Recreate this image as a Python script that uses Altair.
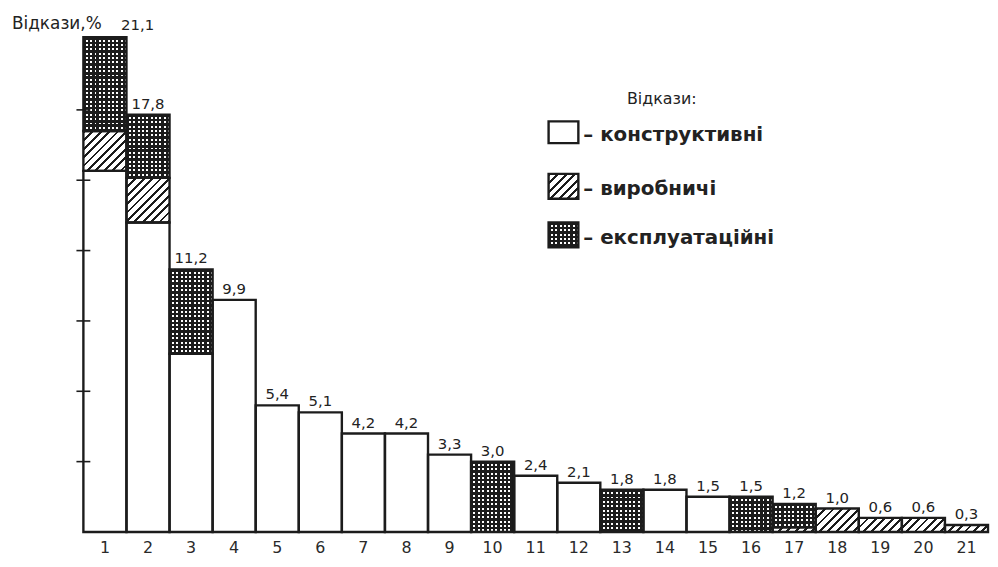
import math
import altair as alt
import pandas as pd

# ---------------- data ----------------
categories = list(range(1, 22))
constructive = [15.4, 13.2, 7.6, 9.9, 5.4, 5.1, 4.2, 4.2, 3.3, 0.0, 2.4, 2.1, 0.0, 1.8, 1.5, 0.0, 0.0, 0.0, 0.0, 0.0, 0.0]
production = [1.7, 1.9, 0.0, 0.0, 0.0, 0.0, 0.0, 0.0, 0.0, 0.0, 0.0, 0.0, 0.0, 0.0, 0.0, 0.0, 0.2, 1.0, 0.6, 0.6, 0.3]
exploitation = [4.0, 2.7, 3.6, 0.0, 0.0, 0.0, 0.0, 0.0, 0.0, 3.0, 0.0, 0.0, 1.8, 0.0, 0.0, 1.5, 1.0, 0.0, 0.0, 0.0, 0.0]
value_labels = ["21,1", "17,8", "11,2", "9,9", "5,4", "5,1", "4,2", "4,2", "3,3", "3,0", "2,4",
                "2,1", "1,8", "1,8", "1,5", "1,5", "1,2", "1,0", "0,6", "0,6", "0,3"]
y_ticks = [3, 6, 9, 12, 15, 18]
y_title = "Відкази,%"
legend_title = "Відкази:"
type_keys = ["constructive", "production", "exploitation"]
type_names = ["конструктивні", "виробничі", "експлуатаційні"]

# ---------------- geometry / style ----------------
W, H = 912, 526
YMAX = 22.25
K = H / YMAX
BW = W / len(categories)
INK = "#1c1c1c"
PAPER = "#ffffff"
CLEAR = "rgba(255,255,255,0)"
FONT = "DejaVu Sans"
TOP = 6  # page offset of plot top from svg top region used for annotations

# ---------------- build segment table ----------------
rows = []
series = {"constructive": constructive, "production": production, "exploitation": exploitation}
for i, c in enumerate(categories):
    lo = 0.0
    for t in type_keys:
        v = series[t][i]
        if v > 0:
            rows.append({"sid": f"{c}-{t}", "cat": c, "type": t, "lo": lo, "hi": lo + v})
            lo += v
seg_df = pd.DataFrame(rows)

lab_df = pd.DataFrame({
    "cat": categories,
    "total": [round(a + b + e, 2) for a, b, e in zip(constructive, production, exploitation)],
    "label": value_labels,
})
one = pd.DataFrame({"a": [0]})


def hatch_diag(w, h, period=6.0, frac=0.34):
    r = h / w
    a = (1 + r) / (1 + r * r)
    b = a * r
    n = (w + h) / (math.sqrt(2) * period)
    stops = []
    i = 0
    while i / n < 1:
        o0 = i / n
        o1 = min((i + frac) / n, 1.0)
        o2 = min((i + 1) / n, 1.0)
        stops += [alt.GradientStop(offset=o0, color=INK), alt.GradientStop(offset=o1, color=INK),
                  alt.GradientStop(offset=o1, color=PAPER), alt.GradientStop(offset=o2, color=PAPER)]
        i += 1
    return alt.LinearGradient(gradient="linear", stops=stops, x1=0, y1=0, x2=a, y2=b)


def stripes(length, horizontal, light, period=4.4, frac=0.55):
    n = max(length / period, 1.0)
    stops = []
    i = 0
    while i / n < 1:
        o0 = i / n
        o1 = min((i + frac) / n, 1.0)
        o2 = min((i + 1) / n, 1.0)
        stops += [alt.GradientStop(offset=o0, color=INK), alt.GradientStop(offset=o1, color=INK),
                  alt.GradientStop(offset=o1, color=light), alt.GradientStop(offset=o2, color=light)]
        i += 1
    if horizontal:
        return alt.LinearGradient(gradient="linear", stops=stops, x1=0, y1=0, x2=0, y2=1)
    return alt.LinearGradient(gradient="linear", stops=stops, x1=0, y1=0, x2=1, y2=0)


X = alt.X("cat:O", scale=alt.Scale(domain=categories, paddingInner=0, paddingOuter=0),
          axis=alt.Axis(title=None, labelAngle=0, ticks=False, domain=False, grid=False,
                        labelPadding=8, labelFontSize=16, labelColor="#2a2a2a", labelFont=FONT))
Y = alt.Y("lo:Q", scale=alt.Scale(domain=[0, YMAX], nice=False, zero=True), axis=None)

layers = []

# constructive: plain white
layers.append(
    alt.Chart(seg_df).transform_filter(alt.datum.type == "constructive")
    .mark_rect(fill=PAPER, strokeWidth=0).encode(x=X, y=Y, y2="hi:Q")
)

# patterned segments, one layer per segment (pattern scaled to segment size)
for r in rows:
    h = (r["hi"] - r["lo"]) * K
    base = alt.Chart(seg_df).transform_filter(alt.datum.sid == r["sid"])
    if r["type"] == "production":
        layers.append(base.mark_rect(fill=hatch_diag(BW, h), strokeWidth=0).encode(x=X, y=Y, y2="hi:Q"))
    elif r["type"] == "exploitation":
        layers.append(base.mark_rect(fill=stripes(h, True, PAPER), strokeWidth=0).encode(x=X, y=Y, y2="hi:Q"))
        layers.append(base.mark_rect(fill=stripes(BW, False, CLEAR), strokeWidth=0).encode(x=X, y=Y, y2="hi:Q"))

# outlines
layers.append(
    alt.Chart(seg_df).mark_rect(fillOpacity=0, stroke=INK, strokeWidth=2.4).encode(x=X, y=Y, y2="hi:Q")
)

# y axis ticks crossing the left edge
layers.append(
    alt.Chart(pd.DataFrame({"v": y_ticks})).mark_rule(stroke=INK, strokeWidth=1.6).encode(
        y=alt.Y("v:Q", scale=alt.Scale(domain=[0, YMAX], nice=False), axis=None),
        x=alt.value(-7), x2=alt.value(7),
    )
)

# value labels
TY = alt.Y("total:Q", scale=alt.Scale(domain=[0, YMAX], nice=False), axis=None)
layers.append(
    alt.Chart(lab_df).transform_filter(alt.datum.cat != 1)
    .mark_text(baseline="bottom", dy=-3, fontSize=15, font=FONT, color="#222")
    .encode(x=X, y=TY, text="label:N")
)
layers.append(
    alt.Chart(lab_df).transform_filter(alt.datum.cat == 1)
    .mark_text(baseline="bottom", dy=-4, dx=33, fontSize=15, font=FONT, color="#222")
    .encode(x=X, y=TY, text="label:N")
)

# y title
layers.append(
    alt.Chart(one).mark_text(text=y_title, align="left", baseline="middle", fontSize=17, font=FONT, color="#222")
    .encode(x=alt.value(-72), y=alt.value(8 + TOP))
)

# legend
LX0, LX1 = 469, 499
boxes = [(106 + TOP, 128 + TOP), (159 + TOP, 184 + TOP), (208 + TOP, 233 + TOP)]
layers.append(
    alt.Chart(one).mark_text(text=legend_title, align="left", baseline="middle", fontSize=16, font=FONT, color="#222")
    .encode(x=alt.value(548), y=alt.value(84 + TOP))
)
for j, (y0, y1) in enumerate(boxes):
    bh = y1 - y0
    enc = dict(x=alt.value(LX0), x2=alt.value(LX1), y=alt.value(y0), y2=alt.value(y1))
    if j == 0:
        layers.append(alt.Chart(one).mark_rect(fill=PAPER, strokeWidth=0).encode(**enc))
    elif j == 1:
        layers.append(alt.Chart(one).mark_rect(fill=hatch_diag(LX1 - LX0, bh), strokeWidth=0).encode(**enc))
    else:
        layers.append(alt.Chart(one).mark_rect(fill=stripes(bh, True, PAPER), strokeWidth=0).encode(**enc))
        layers.append(alt.Chart(one).mark_rect(fill=stripes(LX1 - LX0, False, CLEAR), strokeWidth=0).encode(**enc))
    layers.append(alt.Chart(one).mark_rect(fillOpacity=0, stroke=INK, strokeWidth=2.4).encode(**enc))
    layers.append(
        alt.Chart(one).mark_text(text="– " + type_names[j], align="left", baseline="middle",
                                 fontSize=20, fontWeight="bold", font=FONT, color="#222")
        .encode(x=alt.value(LX1 + 5), y=alt.value((y0 + y1) / 2 + 3))
    )

chart = alt.layer(*layers).properties(
    width=W, height=H,
    autosize=alt.AutoSizeParams(type="none"),
    padding={"left": 76, "top": 0, "right": 2, "bottom": 25},
    background="white",
).configure_view(stroke=None)

chart.save("out.html", embed_options={"renderer": "svg", "actions": False})
